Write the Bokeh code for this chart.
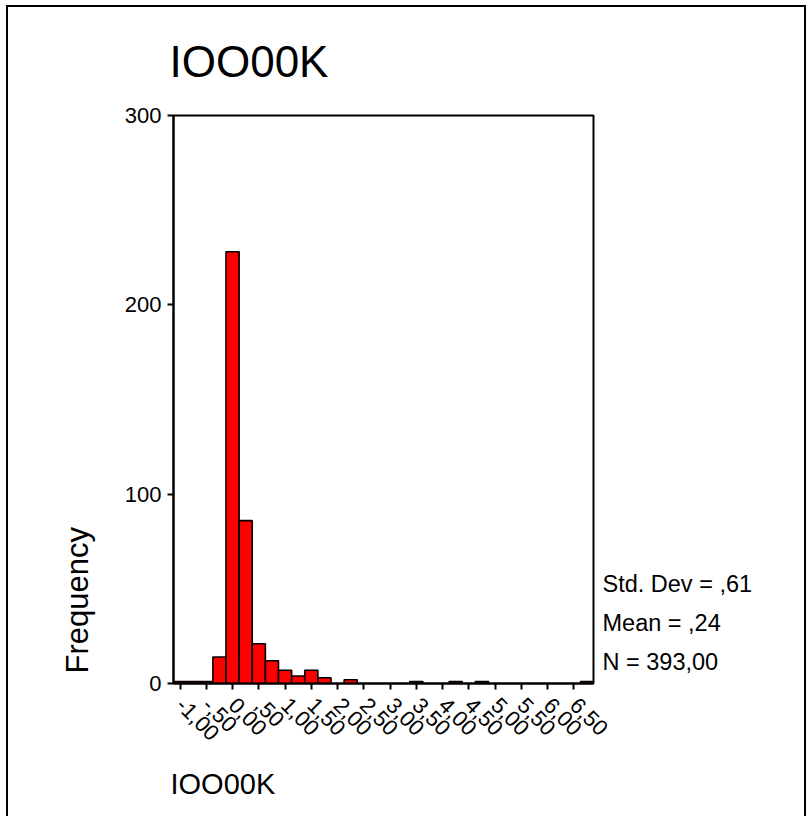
import math
from bokeh.plotting import figure
from bokeh.models import (FixedTicker, Range1d, Title, LinearAxis, InlineStyleSheet)
from bokeh.embed import file_html
from bokeh.resources import INLINE

# ---- data ----
bin_centers = [-1.00, -0.75, -0.50, -0.25, 0.00, 0.25, 0.50, 0.75, 1.00, 1.25,
               1.50, 1.75, 2.00, 2.25, 2.50, 2.75, 3.00, 3.25, 3.50, 3.75,
               4.00, 4.25, 4.50, 4.75, 5.00, 5.25, 5.50, 5.75, 6.00, 6.25,
               6.50, 6.75]
counts = [1, 1, 1, 14, 228, 86, 21, 12, 7, 4,
          7, 3, 0, 2, 0, 0, 0, 0, 1, 0,
          0, 1, 0, 1, 0, 0, 0, 0, 0, 0,
          0, 1]
bin_width = 0.25
x_tick_values = [-1.0, -0.5, 0.0, 0.5, 1.0, 1.5, 2.0, 2.5, 3.0, 3.5, 4.0, 4.5,
                 5.0, 5.5, 6.0, 6.5]
x_tick_labels = ["-1,00", "-,50", "0,00", ",50", "1,00", "1,50", "2,00", "2,50",
                 "3,00", "3,50", "4,00", "4,50", "5,00", "5,50", "6,00", "6,50"]
y_tick_values = [0, 100, 200, 300]
title_text = "IOO00K"
y_label = "Frequency"
stats_lines = ["Std. Dev = ,61", "Mean = ,24", "N = 393,00"]

FONT = "Liberation Sans"
W, H = 809, 816
FL, FR, FT, FB = 173, 593, 115, 683
STATS_ROWS = [52.8, 32.2, 11.6]   # vertical slots (in frequency units) for the stats lines

border_css = InlineStyleSheet(css="""
:host { position: relative; overflow: hidden; }
:host::after {
  content: ""; position: absolute; left: 6px; top: 5px; right: 3px; height: 900px;
  border: 2.5px solid black; pointer-events: none; z-index: 100;
}
""")

p = figure(width=W, height=H, output_backend="svg", toolbar_location=None,
           x_range=Range1d(-1.125, 6.875), y_range=Range1d(0, 300),
           min_border_left=FL, min_border_right=W - FR,
           min_border_top=FT, min_border_bottom=H - FB,
           stylesheets=[border_css])
p.background_fill_color = "white"
p.border_fill_color = "white"
p.outline_line_color = "black"
p.outline_line_width = 2
p.xgrid.visible = False
p.ygrid.visible = False

nz = [i for i, c in enumerate(counts) if c > 0]
p.quad(left=[bin_centers[i] - bin_width / 2 for i in nz],
       right=[bin_centers[i] + bin_width / 2 for i in nz],
       bottom=0, top=[counts[i] for i in nz],
       fill_color="#FF0000", line_color="black", line_width=1.6)

for ax in (p.xaxis[0], p.yaxis[0]):
    ax.axis_line_color = "black"
    ax.axis_line_width = 2
    ax.major_tick_line_color = "black"
    ax.major_tick_line_width = 2
    ax.major_tick_in = 0
    ax.major_tick_out = 6
    ax.minor_tick_line_color = None
    ax.major_label_text_font = FONT
    ax.major_label_text_color = "black"

xax = p.xaxis[0]
xax.ticker = FixedTicker(ticks=x_tick_values)
xax.major_label_overrides = {v: s for v, s in zip(x_tick_values, x_tick_labels)}
xax.major_label_orientation = -math.pi / 4
xax.major_label_text_font_size = "22px"
xax.major_label_standoff = 12

p.yaxis.ticker = FixedTicker(ticks=y_tick_values)
p.yaxis.major_label_text_font_size = "22px"
p.yaxis.major_label_standoff = 6

# statistics text to the right of the plot
stats_axis = LinearAxis(ticker=FixedTicker(ticks=STATS_ROWS),
                        major_label_overrides={v: s for v, s in zip(STATS_ROWS, stats_lines)},
                        axis_line_color=None, major_tick_line_color=None,
                        major_tick_in=0, major_tick_out=0,
                        minor_tick_line_color=None, major_label_standoff=9,
                        major_label_text_font=FONT, major_label_text_font_size="23.5px",
                        major_label_text_color="black")
p.add_layout(stats_axis, "right")

# top title
p.add_layout(Title(text=title_text, align="left", offset=-4, standoff=60,
                   text_font=FONT, text_font_size="44px", text_font_style="normal",
                   text_color="black"), "above")

# bottom title, near the lower edge
p.add_layout(Title(text=title_text, align="left", offset=-3, standoff=31,
                   text_font=FONT, text_font_size="29px", text_font_style="normal",
                   text_color="black"), "below")

# y label
p.add_layout(Title(text=y_label, align="left", offset=10, standoff=53,
                   text_font=FONT, text_font_size="31px", text_font_style="normal",
                   text_color="black"), "left")

open("out.html", "w").write(file_html(p, INLINE))
